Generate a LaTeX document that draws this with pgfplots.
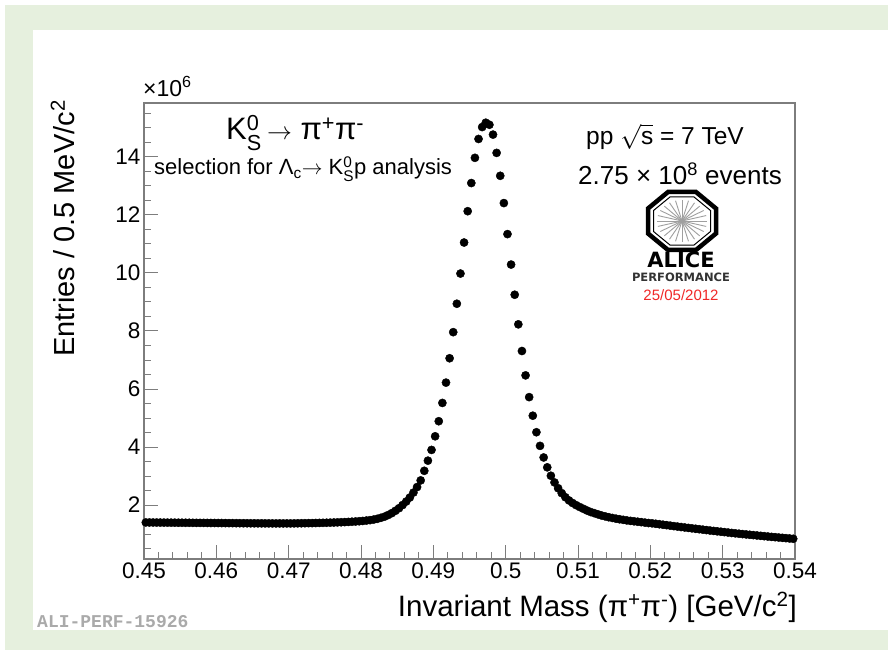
\documentclass[border=0pt]{standalone}
\usepackage{fontspec}
\setmainfont{Liberation Sans}
\newfontfamily\monofont{Liberation Mono}
\newfontfamily\logofont{DejaVu Sans}
\usepackage{amsmath}
\usepackage{pgfplots}
\pgfplotsset{compat=1.18}
\usepackage{pgfplotstable}

\definecolor{framegreen}{RGB}{230,240,222}
\definecolor{axisgray}{RGB}{125,125,125}
\definecolor{datered}{RGB}{240,40,40}
\definecolor{tag}{RGB}{170,170,170}

% K0S -> pi+ pi- invariant mass, 0.5 MeV/c^2 bins (entries in units of 10^6)
\pgfplotstableread{
m n
0.45025 1.400
0.45075 1.399
0.45125 1.398
0.45175 1.397
0.45225 1.396
0.45275 1.395
0.45325 1.394
0.45375 1.393
0.45425 1.392
0.45475 1.391
0.45525 1.390
0.45575 1.389
0.45625 1.388
0.45675 1.387
0.45725 1.386
0.45775 1.385
0.45825 1.384
0.45875 1.383
0.45925 1.382
0.45975 1.381
0.46025 1.380
0.46075 1.379
0.46125 1.378
0.46175 1.377
0.46225 1.376
0.46275 1.375
0.46325 1.374
0.46375 1.373
0.46425 1.372
0.46475 1.371
0.46525 1.370
0.46575 1.369
0.46625 1.369
0.46675 1.368
0.46725 1.368
0.46775 1.367
0.46825 1.367
0.46875 1.367
0.46925 1.367
0.46975 1.367
0.47025 1.367
0.47075 1.368
0.47125 1.370
0.47175 1.372
0.47225 1.374
0.47275 1.376
0.47325 1.378
0.47375 1.381
0.47425 1.384
0.47475 1.387
0.47525 1.390
0.47575 1.394
0.47625 1.398
0.47675 1.402
0.47725 1.407
0.47775 1.412
0.47825 1.418
0.47875 1.425
0.47925 1.433
0.47975 1.442
0.48025 1.452
0.48075 1.465
0.48125 1.480
0.48175 1.500
0.48225 1.525
0.48275 1.560
0.48325 1.600
0.48375 1.655
0.48425 1.720
0.48475 1.800
0.48525 1.890
0.48575 2.000
0.48625 2.120
0.48675 2.260
0.48725 2.430
0.48775 2.620
0.48825 2.850
0.48875 3.180
0.48925 3.530
0.48975 3.900
0.49025 4.370
0.49075 4.890
0.49125 5.520
0.49175 6.220
0.49225 7.060
0.49275 7.960
0.49325 8.940
0.49375 9.980
0.49425 11.050
0.49475 12.130
0.49525 13.100
0.49575 13.970
0.49625 14.620
0.49675 15.030
0.49725 15.180
0.49775 15.110
0.49825 14.770
0.49875 14.140
0.49925 13.350
0.49975 12.410
0.50025 11.340
0.50075 10.290
0.50125 9.250
0.50175 8.230
0.50225 7.310
0.50275 6.470
0.50325 5.720
0.50375 5.080
0.50425 4.510
0.50475 4.040
0.50525 3.640
0.50575 3.300
0.50625 3.010
0.50675 2.780
0.50725 2.580
0.50775 2.410
0.50825 2.270
0.50875 2.160
0.50925 2.070
0.50975 1.995
0.51025 1.930
0.51075 1.870
0.51125 1.810
0.51175 1.760
0.51225 1.720
0.51275 1.680
0.51325 1.640
0.51375 1.610
0.51425 1.580
0.51475 1.555
0.51525 1.530
0.51575 1.510
0.51625 1.490
0.51675 1.470
0.51725 1.455
0.51775 1.440
0.51825 1.425
0.51875 1.410
0.51925 1.395
0.51975 1.380
0.52025 1.370
0.52075 1.354
0.52125 1.338
0.52175 1.322
0.52225 1.306
0.52275 1.290
0.52325 1.274
0.52375 1.258
0.52425 1.242
0.52475 1.227
0.52525 1.212
0.52575 1.197
0.52625 1.182
0.52675 1.167
0.52725 1.152
0.52775 1.137
0.52825 1.122
0.52875 1.108
0.52925 1.094
0.52975 1.080
0.53025 1.066
0.53075 1.052
0.53125 1.038
0.53175 1.025
0.53225 1.012
0.53275 0.999
0.53325 0.987
0.53375 0.975
0.53425 0.963
0.53475 0.951
0.53525 0.939
0.53575 0.927
0.53625 0.915
0.53675 0.903
0.53725 0.892
0.53775 0.881
0.53825 0.870
0.53875 0.859
0.53925 0.848
0.53975 0.837
}\kshort

\newcommand{\KS}{K$^{\text{0}}_{\text{S}}$}

\begin{document}
\begin{tikzpicture}[x=1pt,y=1pt]
\useasboundingbox (0,0) rectangle (888,653);
% page frame
\fill[framegreen] (5,3) rectangle (888,648);
\fill[white] (33,23) rectangle (888,623);

\begin{axis}[
  at={(144pt,94pt)}, anchor=south west,
  scale only axis, width=651pt, height=456pt,
  xmin=0.45, xmax=0.54, ymin=0.14, ymax=15.86,
  xtick={0.45,0.46,0.47,0.48,0.49,0.5,0.51,0.52,0.53,0.54},
  xticklabels={0.45,0.46,0.47,0.48,0.49,0.5,0.51,0.52,0.53,0.54},
  ytick={2,4,6,8,10,12,14},
  yticklabels={2,4,6,8,10,12,14},
  minor xtick={0.452,0.454,0.456,0.458,0.462,0.464,0.466,0.468,0.472,0.474,0.476,0.478,0.482,0.484,0.486,0.488,0.492,0.494,0.496,0.498,0.502,0.504,0.506,0.508,0.512,0.514,0.516,0.518,0.522,0.524,0.526,0.528,0.532,0.534,0.536,0.538},
  minor ytick={0.5,1,1.5,2.5,3,3.5,4.5,5,5.5,6.5,7,7.5,8.5,9,9.5,10.5,11,11.5,12.5,13,13.5,14.5,15,15.5},
  scaled x ticks=false, scaled y ticks=false,
  tick pos=left, tick align=inside,
  major tick length=14pt, minor tick length=7pt,
  every tick/.style={axisgray, line width=1pt},
  axis line style={axisgray, line width=1.2pt},
  tick label style={font=\fontsize{22.5}{26}\selectfont},
  /pgf/number format/assume math mode=true,
]
\addplot[only marks, mark=*, mark size=4.1pt, mark options={fill=black, draw=black}]
  table[x=m, y=n] {\kshort};
\end{axis}

% axis titles
\node[anchor=base east, rotate=90, inner sep=0, font=\fontsize{29}{34}\selectfont]
  at (74,553) {Entries / 0.5 MeV/c\textsuperscript{2}};
\node[anchor=base east, inner sep=0, font=\fontsize{29.5}{34}\selectfont]
  at (797,37) {Invariant Mass (π\textsuperscript{+}π\textsuperscript{-}) [GeV/c\textsuperscript{2}]};
\node[anchor=base west, inner sep=0, font=\fontsize{23}{26}\selectfont]
  at (143,556) {×10\textsuperscript{6}};

% decay channel
\node[anchor=base west, inner sep=0, font=\fontsize{31}{36}\selectfont]
  at (226,513) {\KS\,$\rightarrow$ π\textsuperscript{+}π\textsuperscript{-}};
\node[anchor=base west, inner sep=0, font=\fontsize{22}{26}\selectfont]
  at (154,478) {selection for Λ\textsubscript{c}$\rightarrow$ \KS p analysis};

% collision system
\node[anchor=base west, inner sep=0, font=\fontsize{24.5}{28}\selectfont]
  at (586,508) {pp $\sqrt{\text{s}}$ = 7 TeV};
\node[anchor=base west, inner sep=0, font=\fontsize{26}{30}\selectfont]
  at (578,468) {2.75 × 10\textsuperscript{8} events};

% ALICE logo
\begin{scope}[shift={(682,432)}]
  \foreach \a in {0,15,...,345}
    \draw[gray!75, line width=0.9] (0,0) -- ({25*cos(\a)},{21*sin(\a)});
  \draw[line width=4.5, line join=miter]
    (34,12.5) -- (14,29) -- (-14,29) -- (-34,12.5) -- (-34,-12.5) -- (-14,-29) -- (14,-29) -- (34,-12.5) -- cycle;
  \draw[line width=1, line join=miter]
    (28.5,10.5) -- (11.8,24.2) -- (-11.8,24.2) -- (-28.5,10.5) -- (-28.5,-10.5) -- (-11.8,-24.2) -- (11.8,-24.2) -- (28.5,-10.5) -- cycle;
\end{scope}
\node[anchor=base, inner sep=0, font=\logofont\bfseries\fontsize{21}{24}\selectfont]
  at (681,385) {ALICE};
\node[anchor=base, inner sep=0, text=black!80, font=\logofont\bfseries\fontsize{11.5}{13}\selectfont]
  at (681,371) {PERFORMANCE};
\node[anchor=base, inner sep=0, text=datered, font=\fontsize{15}{18}\selectfont]
  at (681,352) {25/05/2012};

% figure tag
\node[anchor=base west, inner sep=0, text=tag, font=\monofont\bfseries\fontsize{18}{20}\selectfont]
  at (37,26) {ALI-PERF-15926};
\end{tikzpicture}
\end{document}
